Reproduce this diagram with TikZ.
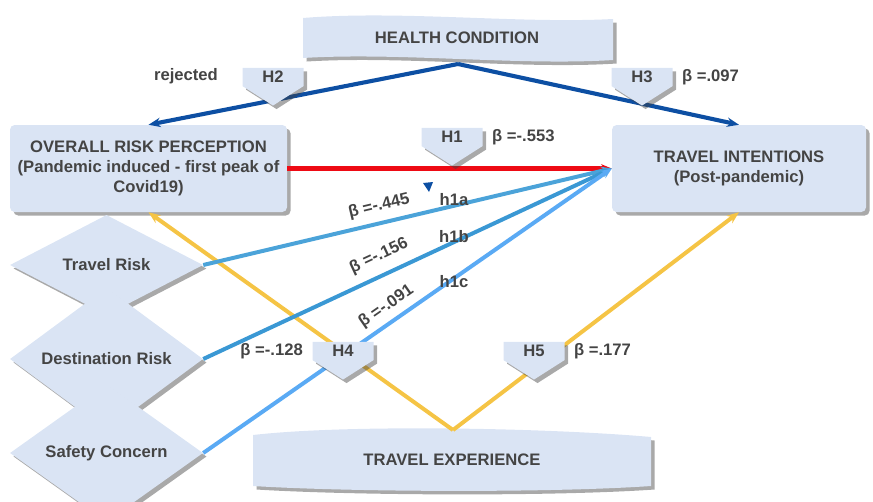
\documentclass[tikz,border=0pt]{standalone}
\usepackage{fontspec}
\setmainfont{Liberation Sans}
\usetikzlibrary{arrows.meta,positioning,calc,shapes.geometric,shapes.symbols,shadows}
\definecolor{boxfill}{HTML}{DAE4F4}
\definecolor{inkgrey}{HTML}{444444}
\definecolor{hcblue}{HTML}{0D4FA3}
\definecolor{hred}{HTML}{EE0A14}
\definecolor{expyellow}{HTML}{F5C445}
\definecolor{riska}{HTML}{4BA3D9}
\definecolor{riskb}{HTML}{3A98D4}
\definecolor{riskc}{HTML}{5AAAF4}
\newcommand{\px}{0.03cm}
\newcommand{\bfnt}{\bfseries\fontsize{14.2}{16.8}\selectfont}
\tikzset{
  shade/.style={drop shadow={shadow xshift=3pt, shadow yshift=-3pt,
                fill=black!75, opacity=.45}},
  conbox/.style={fill=boxfill, shade, rounded corners=4pt, align=center,
                 text=inkgrey, font=\bfnt, inner sep=0pt, minimum height=87*\px},
  riskbox/.style={diamond, fill=boxfill, shade, text=inkgrey, font=\bfnt,
                  inner sep=0pt, minimum width=193*\px, minimum height=94*\px},
  hypbox/.style={signal, signal to=south, signal from=nowhere,
                 signal pointer angle=115, fill=boxfill, shade, text=inkgrey,
                 font=\bfnt, inner sep=0pt, minimum width=61*\px, minimum height=25*\px},
  beta/.style={text=inkgrey, font=\bfnt, inner sep=1pt},
  harr/.style={-{Stealth[length=3.6mm, width=2.8mm]}, line width=3.5pt, color=hcblue},
  rarr/.style={-{Stealth[length=3.2mm, width=2.6mm]}, line width=3.6pt, color=hred},
  yarr/.style={-{Stealth[length=3.6mm, width=2.8mm]}, line width=3.4pt, color=expyellow},
  barr/.style={-{Stealth[length=3.2mm, width=2.6mm]}, line width=3.4pt}}

\begin{document}
\begin{tikzpicture}[x=\px, y=-\px]
  \useasboundingbox (0,0) rectangle (873,501);

  % banners
  \fill[boxfill, shade] (303,18) .. controls (400,10) and (520,24) .. (613,19)
    -- (613,60) .. controls (520,66) and (400,52) .. (303,58) -- cycle;
  \node[beta] (health) at (457,38) {HEALTH CONDITION};
  \coordinate (hcTip) at (458,64);
  \fill[boxfill, shade] (253,435) .. controls (350,424) and (550,428) .. (651,437)
    -- (651,486) .. controls (550,493) and (350,492) .. (253,486) -- cycle;
  \node[beta] (exper) at (452,460) {TRAVEL EXPERIENCE};
  \coordinate (teTip) at (453,430);

  % constructs
  \node[conbox, minimum width=277*\px] (orp) at (148.5,168.5)
    {OVERALL RISK PERCEPTION\\(Pandemic induced - first peak of\\Covid19)};
  \node[conbox, minimum width=254*\px] (ti) at (739,168.5)
    {TRAVEL INTENTIONS\\(Post-pandemic)};
  \node[riskbox] (trisk) at (106.5,265) {Travel Risk};
  \node[riskbox] (drisk) at (106.5,359) {Destination Risk};
  \node[riskbox] (safety) at (106.5,453) {Safety Concern};

  % paths
  \draw[harr] (hcTip) -- (orp.north);
  \draw[harr] (hcTip) -- (ti.north);
  \draw[rarr] (orp.east) -- (ti.west);
  \draw[yarr] (teTip) -- (orp.south);
  \draw[yarr] (teTip) -- (ti.south);
  \draw[barr, riska] (trisk.east) -- node[beta, sloped, pos=.44, above=5pt] {β =-.445} (ti.west);
  \draw[barr, riskb] (drisk.east) -- node[beta, sloped, pos=.45, above=7pt] {β =-.156} (ti.west);
  \draw[barr, riskc] (safety.east) -- node[beta, sloped, pos=.47, above=4pt] {β =-.091} (ti.west);
  \fill[hcblue] (423,183) -- (433,182) -- (429,192) -- cycle;

  % hypotheses
  \node[hypbox] (h1) at (452,137) {H1};
  \node[hypbox] (h2) at (273,77) {H2};
  \node[hypbox] (h3) at (642,77) {H3};
  \node[hypbox] (h4) at (343,351) {H4};
  \node[hypbox] (h5) at (534,351) {H5};

  % labels
  \node[beta] (rej) at (186,76) {rejected};
  \node[beta, right=8*\px of h3.east] (b3) {β =.097};
  \node[beta, right=8*\px of h1.east] (b1) {β =-.553};
  \node[beta, left=8*\px of h4.west] (b4) {β =-.128};
  \node[beta, right=8*\px of h5.east] (b5) {β =.177};
  \node[beta] (h1a) at (454,200) {h1a};
  \node[beta] (h1b) at (454,237) {h1b};
  \node[beta] (h1c) at (454,282) {h1c};
\end{tikzpicture}
\end{document}
